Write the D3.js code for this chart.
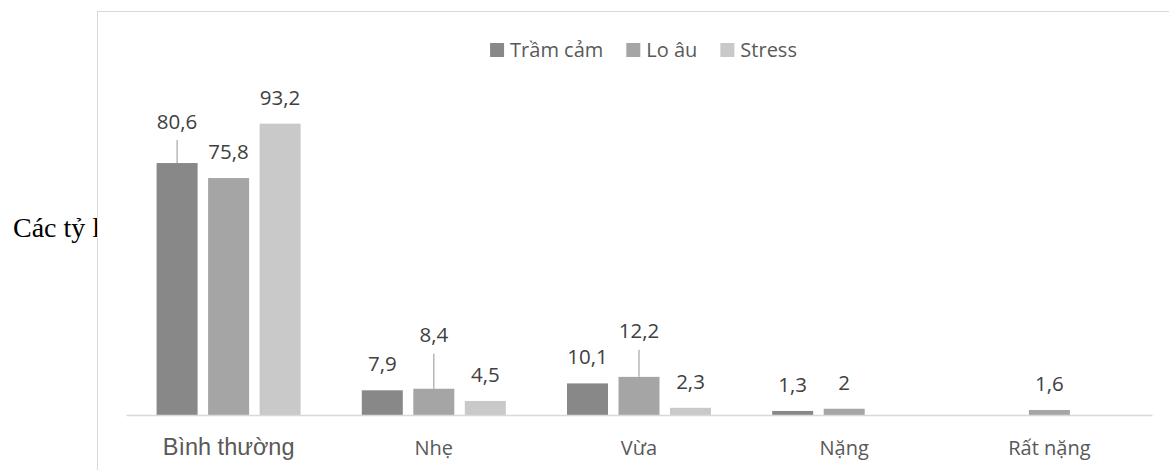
<!DOCTYPE html>
<html>
<head>
<meta charset="utf-8">
<script src="https://cdn.jsdelivr.net/npm/d3@7"></script>
<style>
  html, body { margin: 0; padding: 0; background: #fff; }
  svg { display: block; }
</style>
</head>
<body>
<div id="chart"></div>
<script>
const categories = ["Bình thường", "Nhẹ", "Vừa", "Nặng", "Rất nặng"];
const seriesNames = ["Trầm cảm", "Lo âu", "Stress"];
const tramCam = [80.6, 7.9, 10.1, 1.3, null];
const loAu = [75.8, 8.4, 12.2, 2, 1.6];
const stress = [93.2, 4.5, 2.3, null, null];
const seriesValues = [tramCam, loAu, stress];

// labels dragged away from their bars (pixels above the bar top)
const leaderLift = { "0|0": 40, "1|1": 52, "1|2": 44 };

function makeBarChart(elementToAttachTo, svgConfig = { width: 1169, height: 470 }) {
  //#region Shared variables
  const { width, height } = svgConfig;
  const colors = ["#888888", "#a5a5a5", "#c9c9c9"];
  const chart = d3
    .select(elementToAttachTo)
    .append("svg")
    .attr("width", width)
    .attr("height", height);
  //#endregion

  //#region Axis title hidden behind the chart area
  chart
    .append("text")
    .text("Các tỷ lệ (%)")
    .attr("x", 13)
    .attr("y", 237)
    .style("font-family", "'Liberation Serif', 'Times New Roman', serif")
    .style("font-size", "28px")
    .style("fill", "#000");

  chart
    .append("rect")
    .attr("x", 97.5)
    .attr("y", 11.5)
    .attr("width", width)
    .attr("height", height)
    .style("fill", "#fff")
    .style("stroke", "#d9d9d9");
  //#endregion

  //#region Make scales
  const scaleX = d3.scaleBand().domain(categories).range([126, 1152]);
  const scaleInner = d3
    .scaleBand()
    .domain(d3.range(seriesNames.length))
    .range([0, scaleX.bandwidth()])
    .paddingInner(0.204)
    .paddingOuter(0.594);
  const scaleY = d3.scaleLinear().domain([0, 100]).range([415, 102.4]);
  //#endregion

  //#region Add bars
  const points = [];
  seriesValues.forEach((values, s) => {
    values.forEach((v, c) => {
      if (v !== null) points.push({ s, c, v });
    });
  });

  const bars = chart.append("g");
  bars
    .selectAll("rect")
    .data(points)
    .enter()
    .append("rect")
    .attr("x", d => scaleX(categories[d.c]) + scaleInner(d.s))
    .attr("y", d => scaleY(d.v))
    .attr("width", scaleInner.bandwidth())
    .attr("height", d => scaleY(0) - scaleY(d.v))
    .style("fill", d => colors[d.s]);
  //#endregion

  //#region Add x axis
  const axisX = d3.axisBottom(scaleX).tickSize(0).tickPadding(0);
  const gx = chart
    .append("g")
    .attr("transform", `translate(0,${scaleY(0)})`)
    .call(axisX);
  gx.select(".domain").attr("stroke", "#d9d9d9").attr("stroke-width", 1.5);
  gx.selectAll(".tick text")
    .attr("y", 39.5)
    .attr("dy", null)
    .style("fill", "#595959")
    .style("font-family", (d, i) =>
      i === 0 ? "'Liberation Sans', Arial, sans-serif" : "'Open Sans', sans-serif"
    )
    .style("font-size", (d, i) => (i === 0 ? "23.5px" : "20px"));
  //#endregion

  //#region Add data labels
  const labels = chart.append("g");
  points.forEach(d => {
    const cx = scaleX(categories[d.c]) + scaleInner(d.s) + scaleInner.bandwidth() / 2;
    const top = scaleY(d.v);
    const lift = leaderLift[`${d.s}|${d.c}`];
    const centerY = lift ? top - lift : top - 24.5;
    if (lift) {
      labels
        .append("line")
        .attr("x1", cx)
        .attr("x2", cx)
        .attr("y1", top)
        .attr("y2", centerY + 17)
        .style("stroke", "#a6a6a6")
        .style("stroke-width", 1.2);
    }
    labels
      .append("text")
      .text(String(d.v).replace(".", ","))
      .attr("x", cx)
      .attr("y", centerY + 5.5)
      .attr("text-anchor", "middle")
      .style("font-family", "'Open Sans', sans-serif")
      .style("font-size", "20.5px")
      .style("fill", "#404040");
  });
  //#endregion

  //#region Add legend
  const legend = chart.append("g");
  let offset = 0;
  seriesNames.forEach((name, i) => {
    const item = legend.append("g").attr("transform", `translate(${offset},0)`);
    item
      .append("rect")
      .attr("x", 0)
      .attr("y", 43)
      .attr("width", 14)
      .attr("height", 14)
      .style("fill", colors[i]);
    const label = item
      .append("text")
      .text(name)
      .attr("x", 20)
      .attr("y", 56.5)
      .style("font-family", "'Open Sans', sans-serif")
      .style("font-size", "20px")
      .style("fill", "#595959");
    offset += 20 + label.node().getComputedTextLength() + 23;
  });
  const legendWidth = offset - 23;
  legend.attr("transform", `translate(${643.5 - legendWidth / 2},0)`);
  //#endregion
}

makeBarChart("#chart");
</script>
</body>
</html>
